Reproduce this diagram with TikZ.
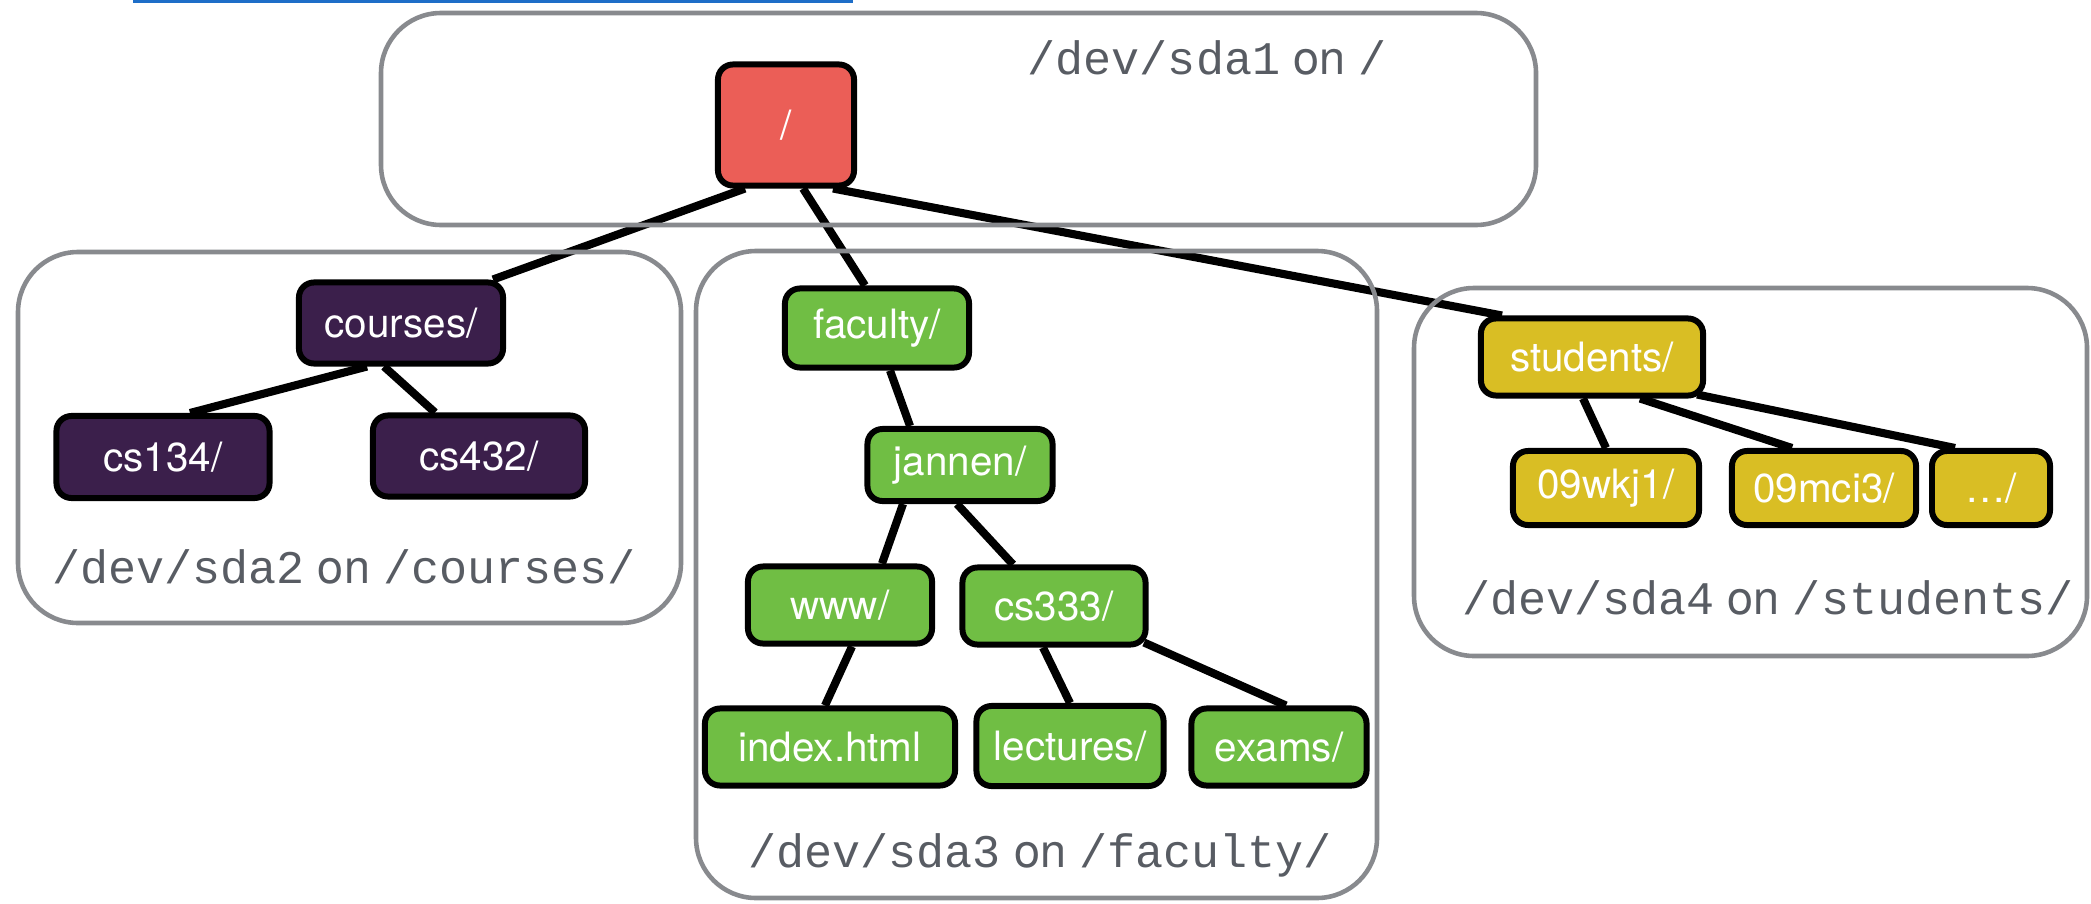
\documentclass[tikz,border=0pt]{standalone}
\usepackage{fontspec}
\setmainfont{TeX Gyre Heros}
\setmonofont{Liberation Mono}
\usepackage{tikz}
\usetikzlibrary{calc}

\definecolor{rootred}{RGB}{235,94,87}
\definecolor{coursepurple}{RGB}{59,31,75}
\definecolor{facultygreen}{RGB}{112,190,68}
\definecolor{studentyellow}{RGB}{217,190,36}
\definecolor{mountgray}{RGB}{136,138,142}
\definecolor{labelgray}{RGB}{88,92,99}
\definecolor{scribbleblue}{RGB}{30,110,200}

\tikzset{
  dir/.style={draw=black, line width=1.7pt, rounded corners=0.15cm, text=white,
    inner sep=0pt, minimum height=0.77cm, font=\fontsize{11.5}{13}\selectfont},
  link/.style={line width=2.3pt},
  mount/.style={draw=mountgray, line width=1.3pt, rounded corners=0.6cm},
  mountlabel/.style={text=labelgray, inner sep=0pt, font=\fontsize{13.3}{15}\selectfont},
}

\begin{document}
\begin{tikzpicture}[x=0.01cm, y=-0.01cm]
	\useasboundingbox (0,0) rectangle (2091,903);

	\fill[scribbleblue] (133,0) rectangle (853,3);

	% root partition
	\node[dir, fill=rootred, minimum width=1.36cm, minimum height=1.21cm] (root) at (786,125) {/};

	% courses
	\node[dir, fill=coursepurple, minimum width=2.04cm, minimum height=0.81cm] (courses) at (401,323) {courses/};
	\node[dir, fill=coursepurple, minimum width=2.13cm, minimum height=0.82cm] (cs134) at (163,457) {cs134/};
	\node[dir, fill=coursepurple, minimum width=2.12cm, minimum height=0.81cm] (cs432) at (479,456) {cs432/};

	% faculty
	\node[dir, fill=facultygreen, minimum width=1.84cm, minimum height=0.79cm] (faculty) at (877,328) {faculty/};
	\node[dir, fill=facultygreen, minimum width=1.85cm, minimum height=0.72cm] (jannen) at (960,465) {jannen/};
	\node[dir, fill=facultygreen, minimum width=1.84cm] (www) at (840,605) {www/};
	\node[dir, fill=facultygreen, minimum width=1.83cm] (cs333) at (1054,606) {cs333/};
	\node[dir, fill=facultygreen, minimum width=2.50cm] (index) at (830,747) {index.html};
	\node[dir, fill=facultygreen, minimum width=1.87cm, minimum height=0.80cm] (lectures) at (1070,746) {lectures/};
	\node[dir, fill=facultygreen, minimum width=1.75cm] (exams) at (1279,747) {exams/};

	% students
	\node[dir, fill=studentyellow, minimum width=2.22cm] (students) at (1592,357) {students/};
	\node[dir, fill=studentyellow, minimum width=1.86cm, minimum height=0.74cm] (wkj) at (1606,488) {09wkj1/};
	\node[dir, fill=studentyellow, minimum width=1.84cm, minimum height=0.74cm] (mci) at (1824,488) {09mci3/};
	\node[dir, fill=studentyellow, minimum width=1.18cm, minimum height=0.74cm] (dots) at (1991,488) {\dots/};

	\draw[link] ($(root.south)+(-41,0)$) -- ($(courses.north)+(92,0)$);
	\draw[link] ($(root.south)+(17,0)$) -- ($(faculty.north)+(-12,0)$);
	\draw[link] ($(root.south)+(47,0)$) -- ($(students.north)+(-90,0)$);

	\draw[link] ($(courses.south)+(-34,0)$) -- ($(cs134.north)+(27,0)$);
	\draw[link] ($(courses.south)+(-17,0)$) -- ($(cs432.north)+(-44,0)$);

	\draw[link] ($(faculty.south)+(13,0)$) -- ($(jannen.north)+(-50,0)$);
	\draw[link] ($(jannen.south)+(-57,0)$) -- ($(www.north)+(42,0)$);
	\draw[link] ($(jannen.south)+(-3,0)$) -- ($(cs333.north)+(-41,0)$);
	\draw[link] ($(www.south)+(12,0)$) -- ($(index.north)+(-5,0)$);
	\draw[link] ($(cs333.south)+(-11,0)$) -- (lectures.north);
	\draw[link] ($(cs333.south)+(90,-5)$) -- ($(exams.north)+(7,0)$);

	\draw[link] ($(students.south)+(-9,0)$) -- (wkj.north);
	\draw[link] ($(students.south)+(48,0)$) -- ($(mci.north)+(-32,0)$);
	\draw[link] ($(students.south)+(105,-4)$) -- ($(dots.north)+(-36,0)$);

	% mount points
	\draw[mount] (381,13) rectangle (1536,225);
	\draw[mount] (18,252) rectangle (681,623);
	\draw[mount] (696,251) rectangle (1377,898);
	\draw[mount] (1414,288) rectangle (2087,656);

	\node[mountlabel] (sdaone) at (1207,58) {\texttt{/dev/sda1} on \texttt{/}};
	\node[mountlabel] (sdatwo) at (344,567) {\texttt{/dev/sda2} on \texttt{/courses/}};
	\node[mountlabel] (sdathree) at (1040,855) {\texttt{/dev/sda3} on \texttt{/faculty/}};
	\node[mountlabel] (sdafour) at (1768,598) {\texttt{/dev/sda4} on \texttt{/students/}};

\end{tikzpicture}
\end{document}
